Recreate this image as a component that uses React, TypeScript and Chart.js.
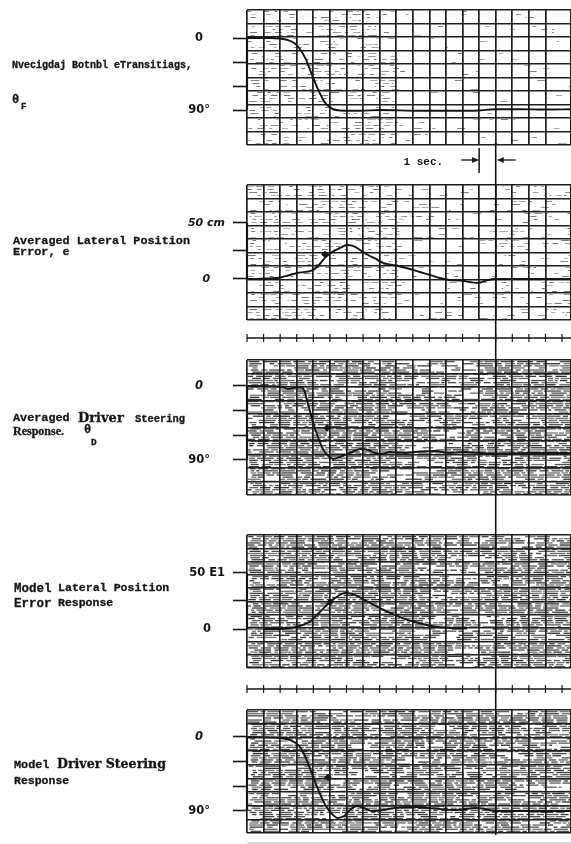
import { useEffect, useRef } from 'react';
import { Chart, registerables } from 'chart.js';

Chart.register(...registerables);

const PAGE_W = 571;
const PAGE_H = 844;
const AXIS_W = 247;
const INK = '#141414';
const GRID = '#1e1e1e';

const MONO = '"Liberation Mono", "DejaVu Sans Mono", monospace';
const SERIF = '"Liberation Serif", "DejaVu Serif", serif';
const DSERIF = '"DejaVu Serif", "Liberation Serif", serif';
const SANS = '"DejaVu Sans", "Liberation Sans", sans-serif';

// ---------- time base (one paper division per second) ----------
const T_END = 19.54;
const EVENT_T = 15;
const SEC_FROM = 14;
const SEC_TO = 15;

// ---------- recorded traces ----------
// forcing function, theta_F (deg)
const forcingT = [0, 1.39, 1.99, 2.47, 2.83, 3.2, 3.56, 3.92, 4.28, 4.64, 5.01, 5.37, 5.91, 6.82, 8.02, 10.43, 12.85, 13.93, 14.96, 16.47, 17.97, 19.54];
const forcingDeg = [0, 0, 0.6, 2.5, 6, 14, 27, 46, 64, 79, 87, 90, 91, 91, 90, 91, 91, 90.6, 89, 89, 89.4, 89];

// averaged lateral position error, e (cm)
const errT = [0, 1.81, 2.59, 3.02, 3.5, 3.92, 4.28, 4.7, 5.13, 5.61, 6.03, 6.39, 6.82, 7.3, 7.78, 8.2, 8.75, 9.23, 9.83, 10.43, 11.04, 11.64, 12.24, 12.85, 13.45, 13.93, 14.35, 14.96, 16.47, 19.54];
const errCm = [0, 0.9, 3.6, 5.4, 6.3, 7.6, 11.6, 18.8, 24.1, 27.7, 30.4, 29.5, 25.9, 21.4, 17.9, 14.3, 12.5, 11.2, 8.9, 6.25, 3.6, 0.9, -0.9, -1.3, -2.7, -3.6, -1.8, 0, 0, 0];

// averaged driver steering response, theta_D (deg)
const steerT = [0, 2.17, 2.47, 2.77, 3.2, 3.44, 3.68, 3.98, 4.28, 4.58, 4.89, 5.19, 5.61, 6.21, 6.82, 7.3, 7.72, 8.14, 8.62, 9.53, 10.43, 11.34, 12.24, 13.15, 14.05, 15.08, 17.07, 19.54];
const steerDeg = [0, 1.2, 3.6, 2.4, 1.2, 4.9, 21.9, 43.8, 62, 76.6, 85.1, 88.8, 86.4, 81.5, 76.6, 77.8, 81.5, 82.7, 80.3, 81.5, 79.7, 79.1, 81.5, 80.3, 81.5, 82.1, 81.5, 81.5];

// model lateral position error (cm)
const modelErrT = [1, 1.99, 2.59, 3.2, 3.8, 4.4, 5.01, 5.49, 5.91, 6.33, 6.82, 7.42, 8.02, 8.62, 9.23, 10.01, 10.74, 11.46, 12.24, 13.27];
const modelErrCm = [0, 0, 0.9, 2.7, 6.7, 15.2, 24.1, 29.5, 32.1, 31.3, 28.1, 23.2, 18.75, 14.3, 10.7, 6.7, 4.0, 1.8, 0.9, 0.4];

// model driver steering response (deg)
const modelSteerT = [0, 1.99, 2.59, 3.08, 3.44, 3.74, 4.04, 4.4, 4.76, 5.13, 5.49, 5.85, 6.21, 6.63, 7.06, 7.54, 8.02, 8.93, 10.13, 11.34, 12.55, 13.87, 15.08, 17.07, 19.54];
const modelSteerDeg = [0, 1.2, 3.6, 9.7, 20.7, 35.3, 51.1, 69.3, 83.9, 93.7, 98.5, 96.1, 88.8, 83.9, 86.4, 90, 89.4, 86.4, 85.1, 87, 88.8, 86.4, 90, 90, 90];

// small pen flags on the traces: [time, value]
const errFlag: [number, number] = [4.7, 22];
const steerFlag: [number, number] = [4.83, 51];
const modelErrFlag: [number, number] = [5.01, 24];
const modelSteerFlag: [number, number] = [4.89, 49];

// calibration ticks
const angleTicks = [0, 30, 60, 90];
const errorTicks = [0, 25, 50];

// ---------- panel layout ----------
type Seg = { x: number; y: number; text: string; family: string; size: number; weight?: string; italic?: boolean; ratio: number };
type Panel = {
  top: number; height: number; padTop: number; padBottom: number;
  yMin: number; yMax: number; reverse: boolean; rows: number;
  ticks: number[]; tickText: Record<string, string>; tickPad: number;
  tickFont: (v: number) => any;
  t: number[]; v: number[]; flag?: [number, number];
  density: (x: number) => number; dense: boolean; seed: number;
  event: 'below' | 'full' | 'above';
  timeBar?: number; secScale?: boolean; footLine?: boolean;
  labels: Seg[];
};

const mono = (x: number, y: number, text: string, size = 11.8, weight = 'bold'): Seg => ({ x, y, text, family: MONO, size, weight, ratio: 0.767 });
const serif = (x: number, y: number, text: string, size = 12, weight = 'bold'): Seg => ({ x, y, text, family: SERIF, size, weight, ratio: 0.8375 });
const dserif = (x: number, y: number, text: string, size = 13, weight = 'bold'): Seg => ({ x, y, text, family: DSERIF, size, weight, ratio: 0.85 });

const upright = () => ({ family: SANS, size: 11.5, weight: 'bold', style: 'normal' });
const zeroItalic = (v: number) => ({ family: SANS, size: 11.5, weight: 'bold', style: v === 0 ? 'italic' : 'normal' });

const PANELS: Panel[] = [
  {
    top: 0, height: 175, padTop: 10, padBottom: 30,
    yMin: -35, yMax: 133.75, reverse: true, rows: 10,
    ticks: angleTicks, tickText: { 0: '0', 90: '90°' }, tickPad: 23, tickFont: upright,
    t: forcingT, v: forcingDeg,
    density: (x) => (x < 395 ? 0.5 : 0.07), dense: false, seed: 1,
    event: 'below', secScale: true,
    labels: [
      mono(12, 69, 'Nvecigdaj Botnbl eTransitiags,', 10),
      mono(12, 103, 'θ', 12),
      mono(21, 110, 'F', 9),
    ],
  },
  {
    top: 175, height: 175, padTop: 10, padBottom: 30,
    yMin: -36.6, yMax: 83.9, reverse: false, rows: 10,
    ticks: errorTicks, tickText: { 0: '0', 50: '50 cm' }, tickPad: 8,
    tickFont: () => ({ family: SANS, size: 11, weight: 'bold', style: 'italic' }),
    t: errT, v: errCm, flag: errFlag,
    density: (x) => (x < 400 ? 0.58 : x < 495 ? 0.2 : 0.32), dense: false, seed: 2,
    event: 'full', timeBar: 18,
    labels: [
      mono(13, 245, 'Averaged Lateral Position'),
      mono(13, 256, 'Error, e'),
    ],
  },
  {
    top: 350, height: 165, padTop: 10, padBottom: 20,
    yMin: -31.6, yMax: 132.6, reverse: true, rows: 10,
    ticks: angleTicks, tickText: { 0: '0', 90: '90°' }, tickPad: 23, tickFont: zeroItalic,
    t: steerT, v: steerDeg, flag: steerFlag,
    density: (x) => (x > 390 && x < 480 ? 0.72 : 0.88), dense: true, seed: 3,
    event: 'full',
    labels: [
      mono(13, 422, 'Averaged'),
      dserif(78, 422, 'Driver', 13),
      mono(135, 422, 'Steering', 10.4),
      serif(13, 435, 'Response.', 12),
      mono(84, 433, 'θ', 12),
      mono(91, 445, 'D', 9.5),
    ],
  },
  {
    top: 515, height: 185, padTop: 20, padBottom: 32,
    yMin: -34.8, yMax: 83.9, reverse: false, rows: 10,
    ticks: errorTicks, tickText: { 0: '0', 50: '50 E1' }, tickPad: 8, tickFont: upright,
    t: modelErrT, v: modelErrCm, flag: modelErrFlag,
    density: (x) => (x > 440 && x < 485 ? 0.76 : 0.9), dense: true, seed: 4,
    event: 'full', timeBar: 21,
    labels: [
      mono(14, 593, 'Model', 12.5),
      mono(58, 591, 'Lateral Position', 11.6),
      mono(14, 608, 'Error', 12.5),
      mono(58, 606, 'Response', 11.5),
    ],
  },
  {
    top: 700, height: 144, padTop: 10, padBottom: 11,
    yMin: -32.8, yMax: 116.8, reverse: true, rows: 9,
    ticks: angleTicks, tickText: { 0: '0', 90: '90°' }, tickPad: 23, tickFont: zeroItalic,
    t: modelSteerT, v: modelSteerDeg, flag: modelSteerFlag,
    density: () => 0.86, dense: true, seed: 5,
    event: 'above', footLine: true,
    labels: [
      mono(14, 769, 'Model', 11.8),
      dserif(57, 769, 'Driver Steering', 12.6),
      mono(14, 784, 'Response', 11.5),
    ],
  },
];

// ---------- drawing helpers ----------
function grain(a: number, b: number): number {
  const s = Math.sin(a * 12.9898 + b * 78.233) * 43758.5453;
  return s - Math.floor(s);
}

// hatched chart-paper texture under the grid
function paintPaper(ctx: CanvasRenderingContext2D, area: any, p: Panel) {
  const { left, right, top, bottom } = area;
  ctx.save();
  ctx.beginPath();
  ctx.rect(left, top, right - left, bottom - top);
  ctx.clip();
  const rowGap = p.dense ? 2.1 : 3.0;
  let row = 0;
  for (let y = top + 1; y < bottom; y += rowGap, row++) {
    let x = left + grain(row, p.seed) * 6;
    let k = 0;
    while (x < right) {
      const g1 = grain(row + p.seed * 7, k);
      const g2 = grain(k + 0.37, row + p.seed);
      const g3 = grain(row * 1.7 + k * 0.31, p.seed + k * 0.13);
      const len = p.dense ? 3 + g1 * 14 : 1.5 + g1 * 7;
      if (g3 < p.density(x)) {
        ctx.fillStyle = p.dense
          ? `rgba(35,35,35,${0.6 + g2 * 0.35})`
          : `rgba(60,60,60,${0.35 + g2 * 0.4})`;
        ctx.fillRect(x, y, len, p.dense ? 1.3 : 1);
      }
      x += len + (p.dense ? 1 + g2 * 2.6 : 1.5 + g2 * 5);
      k++;
    }
  }
  ctx.restore();
}

function seg(ctx: CanvasRenderingContext2D, x1: number, y1: number, x2: number, y2: number) {
  ctx.beginPath();
  ctx.moveTo(x1, y1);
  ctx.lineTo(x2, y2);
  ctx.stroke();
}

function arrow(ctx: CanvasRenderingContext2D, xFrom: number, xTo: number, y: number) {
  seg(ctx, xFrom, y, xTo, y);
  const dir = Math.sign(xTo - xFrom);
  ctx.beginPath();
  ctx.moveTo(xTo, y);
  ctx.lineTo(xTo - dir * 6, y - 3);
  ctx.lineTo(xTo - dir * 6, y + 3);
  ctx.closePath();
  ctx.fill();
}

function stripPlugin(p: Panel) {
  return {
    id: 'strip',
    beforeDraw(chart: any) {
      paintPaper(chart.ctx, chart.chartArea, p);
    },
    afterDraw(chart: any) {
      const ctx: CanvasRenderingContext2D = chart.ctx;
      const xs = chart.scales.x;
      const ys = chart.scales.y;
      const area = chart.chartArea;
      ctx.save();
      ctx.strokeStyle = INK;
      ctx.fillStyle = INK;

      // bracket over the calibrated range
      ctx.lineWidth = 2.2;
      seg(ctx, area.left, ys.getPixelForValue(p.ticks[0]), area.left, ys.getPixelForValue(p.ticks[p.ticks.length - 1]));

      // event marker running through the record
      const xe = xs.getPixelForValue(EVENT_T);
      const from = p.event === 'below' ? area.bottom : 0;
      const to = p.event === 'above' ? area.bottom + 2 : chart.height;
      ctx.lineWidth = 1.6;
      seg(ctx, xe, from, xe, to);

      // one-second timing strip
      if (p.timeBar) {
        const yb = area.bottom + p.timeBar;
        ctx.lineWidth = 1.5;
        seg(ctx, xs.getPixelForValue(0), yb, chart.width, yb);
        ctx.lineWidth = 1.2;
        for (let t = 0; t <= Math.floor(T_END); t++) {
          const xt = xs.getPixelForValue(t);
          seg(ctx, xt, yb - 4, xt, yb + 4);
        }
      }

      // 1 s calibration
      if (p.secScale) {
        const x14 = xs.getPixelForValue(SEC_FROM);
        const x15 = xs.getPixelForValue(SEC_TO);
        const ya = area.bottom + 15;
        ctx.lineWidth = 1.5;
        seg(ctx, x14, area.bottom + 3, x14, area.bottom + 28);
        ctx.lineWidth = 1.3;
        arrow(ctx, x14 - 18, x14 - 1, ya);
        arrow(ctx, x15 + 20, x15 + 2, ya);
        ctx.font = `bold 11px ${MONO}`;
        ctx.textAlign = 'right';
        ctx.textBaseline = 'alphabetic';
        ctx.fillText('1 sec.', x14 - 36, area.bottom + 20);
      }

      if (p.footLine) {
        ctx.strokeStyle = '#d9d9d9';
        ctx.lineWidth = 2;
        seg(ctx, area.left, chart.height - 1, chart.width, chart.height - 1);
      }
      ctx.restore();
    },
  };
}

function buildConfig(p: Panel): any {
  const datasets: any[] = [
    {
      data: p.t.map((t, i) => ({ x: t, y: p.v[i] })),
      borderColor: INK,
      borderWidth: 1.9,
      pointRadius: 0,
      cubicInterpolationMode: 'monotone',
      yAxisID: 'y',
    },
  ];
  if (p.flag) {
    datasets.push({
      data: [{ x: p.flag[0], y: p.flag[1] }],
      showLine: false,
      pointRadius: 3.2,
      pointStyle: 'rectRot',
      backgroundColor: INK,
      borderColor: INK,
      yAxisID: 'y',
    });
  }
  return {
    type: 'line',
    data: { datasets },
    options: {
      animation: false,
      responsive: false,
      events: [],
      layout: { autoPadding: false, padding: { top: p.padTop, bottom: p.padBottom, left: 0, right: 0 } },
      plugins: { legend: { display: false }, tooltip: { enabled: false } },
      scales: {
        x: {
          type: 'linear',
          min: 0,
          max: T_END,
          ticks: { display: false, stepSize: 1, maxTicksLimit: 100 },
          grid: { color: GRID, lineWidth: 1.7, drawTicks: false },
          border: { display: false },
          afterFit: (s: any) => { s.height = 0; },
        },
        y: {
          type: 'linear',
          position: 'left',
          reverse: p.reverse,
          min: p.yMin,
          max: p.yMax,
          afterBuildTicks: (s: any) => { s.ticks = p.ticks.map((v) => ({ value: v })); },
          afterFit: (s: any) => { s.width = AXIS_W; s.paddingTop = 0; s.paddingBottom = 0; },
          grid: { display: true, drawOnChartArea: false, drawTicks: true, tickLength: 14, tickWidth: 1.6, tickColor: INK, color: INK },
          border: { display: false },
          ticks: {
            autoSkip: false,
            padding: p.tickPad,
            crossAlign: 'center',
            color: INK,
            font: (c: any) => p.tickFont(c.tick ? c.tick.value : 0),
            callback: (v: number) => p.tickText[String(v)] ?? '',
          },
        },
        paper: {
          type: 'linear',
          position: 'right',
          min: 0,
          max: p.rows,
          ticks: { display: false, stepSize: 1 },
          grid: { color: GRID, lineWidth: 1.5, drawTicks: false },
          border: { display: false },
          afterFit: (s: any) => { s.width = 0; },
        },
      },
    },
    plugins: [stripPlugin(p)],
  };
}

function StripPanel({ p }: { p: Panel }) {
  const ref = useRef<HTMLCanvasElement | null>(null);
  useEffect(() => {
    const canvas = ref.current;
    if (!canvas) return;
    const chart = new Chart(canvas, buildConfig(p));
    return () => chart.destroy();
  }, [p]);
  return (
    <canvas
      ref={ref}
      width={PAGE_W}
      height={p.height}
      style={{ position: 'absolute', left: 0, top: p.top, width: PAGE_W, height: p.height, display: 'block' }}
    />
  );
}

function Label({ s }: { s: Seg }) {
  return (
    <span
      style={{
        position: 'absolute',
        left: s.x,
        top: s.y - s.ratio * s.size,
        fontFamily: s.family,
        fontSize: s.size,
        fontWeight: s.weight as any,
        fontStyle: s.italic ? 'italic' : 'normal',
        lineHeight: `${s.size}px`,
        whiteSpace: 'pre',
        color: INK,
        WebkitTextStroke: `0.3px ${INK}`,
      }}
    >
      {s.text}
    </span>
  );
}

export default function App() {
  return (
    <div style={{ position: 'absolute', left: 0, top: 0, width: PAGE_W, height: PAGE_H, background: '#fff', overflow: 'hidden' }}>
      {PANELS.map((p, i) => (
        <StripPanel key={i} p={p} />
      ))}
      {PANELS.flatMap((p) => p.labels).map((s, i) => (
        <Label key={i} s={s} />
      ))}
    </div>
  );
}
